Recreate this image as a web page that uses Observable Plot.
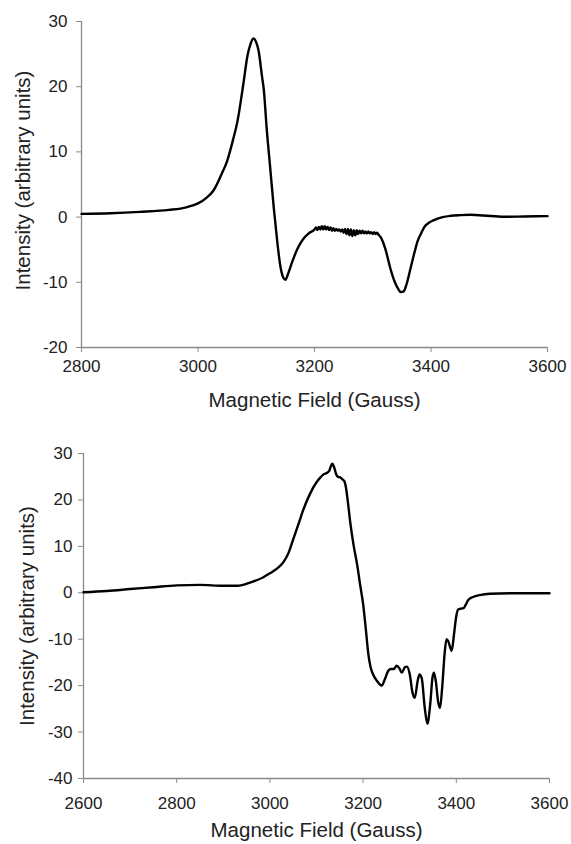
<!DOCTYPE html>
<html><head><meta charset="utf-8">
<script src="https://cdn.jsdelivr.net/npm/d3@7"></script>
<script src="https://cdn.jsdelivr.net/npm/@observablehq/plot@0.6"></script>
<style>
body{margin:0;background:#fff;}
#chart svg{display:block;}
</style>
</head><body><div id="chart"></div>
<script>
const xLabel = "Magnetic Field (Gauss)";
const yLabel = "Intensity (arbitrary units)";

// Top spectrum
const topField = [2800,2850,2900,2950,2980,3000,3015,3026,3040,3050,3060,3068,3078,3085,3090,3095,3100,3104,3110,3113,3118,3124,3130,3136,3141,3146,3150,3155,3162,3170,3176,3182,3190,
  3200,3202.5,3205,3207.5,3210,3212.5,3215,3217.5,3220,3222.5,3225,3227.5,3230,3232.5,3235,3237.5,3240,3242.5,3245,3247.5,3250,3252.5,3255,3257.5,3260,3262.5,3265,3267.5,3270,3272.5,3275,3277.5,3280,3282.5,3285,3287.5,3290,3292.5,3295,3297.5,3300,3302.5,3305,3307.5,3310,
  3313,3317,3322,3330,3338,3345,3348,3353,3358,3365,3372,3377,3383,3388,3396,3404,3420,3434,3450,3468,3490,3525,3560,3600];
const topIntensity = [0.5,0.6,0.8,1.1,1.5,2.1,3.0,4.0,6.5,8.6,11.8,14.8,20.5,24.8,26.5,27.4,26.8,25.5,21.5,19.5,13.5,7.5,1.5,-3.7,-7.3,-9.2,-9.6,-8.6,-6.8,-5.0,-4.0,-3.2,-2.5,
  -1.9,-1.6,-2.0,-1.5,-1.9,-1.4,-1.9,-1.4,-1.9,-1.5,-2.0,-1.6,-2.1,-1.7,-2.1,-1.8,-2.1,-1.9,-2.2,-1.9,-2.4,-1.8,-2.6,-1.8,-2.8,-1.9,-2.9,-2.0,-2.8,-2.0,-2.6,-2.1,-2.5,-2.1,-2.5,-2.2,-2.5,-2.2,-2.5,-2.3,-2.6,-2.3,-2.6,-2.4,-2.7,
  -3.0,-3.7,-5.0,-7.8,-10.0,-11.2,-11.5,-11.4,-10.3,-7.8,-5.3,-3.7,-2.5,-1.6,-0.9,-0.5,0.0,0.2,0.3,0.35,0.25,0.05,0.1,0.15];
const topXTicks = [2800,3000,3200,3400,3600];
const topYTicks = [-20,-10,0,10,20,30];

// Bottom spectrum
const bottomField = [2600,2650,2700,2750,2800,2850,2900,2930,2960,2985,3000,3015,3029,3040,3051,3062,3071,3086,3100,3108,3115,3122,3127,3131,3134,3138,3142,3146,3152,3155,3160,3163,3168,3172,3180,3187,3194,3200,3206,3211,3216,3221,3230,3240,3246,3254,3260,3266,3272,3278,3283,3290,3294,3300,3306,3311,3317,3321,3326,3332,3338,3344,3349,3352,3356,3361,3365,3370,3375,3379,3383,3390,3395,3400,3404,3410,3416,3420,3426,3436,3450,3472,3520,3600];
const bottomIntensity = [0.1,0.4,0.8,1.2,1.6,1.7,1.5,1.5,2.3,3.3,4.2,5.2,6.6,8.6,11.8,15.0,17.7,21.3,23.8,24.8,25.5,25.8,26.2,27.3,27.8,27.0,25.6,25.0,24.8,24.5,24.0,22.8,19.0,15.5,10.0,6.2,1.5,-2.4,-8.0,-13.0,-16.0,-17.5,-19.0,-20.0,-18.8,-16.8,-16.4,-16.4,-15.7,-16.3,-17.2,-16.0,-15.9,-17.5,-21.5,-22.6,-19.0,-17.6,-18.5,-24.5,-28.2,-24.0,-18.2,-17.2,-19.0,-23.5,-24.8,-20.0,-13.0,-10.0,-10.5,-12.5,-9.0,-5.0,-3.6,-3.4,-3.3,-2.6,-1.5,-0.9,-0.5,-0.2,-0.1,-0.1];
const bottomXTicks = [2600,2800,3000,3200,3400,3600];
const bottomYTicks = [-40,-30,-20,-10,0,10,20,30];

const FONT = "'Liberation Sans', Arial, sans-serif";
const AXIS_GRAY = "#8a8a8a";
const TEXT_COLOR = "#222";

function panel(field, intensity, xTicks, yTicks, o) {
  const data = field.map((f, i) => ({field: f, intensity: intensity[i]}));
  const xDom = [d3.min(xTicks), d3.max(xTicks)];
  const yDom = [d3.min(yTicks), d3.max(yTicks)];
  return Plot.plot({
    width: 571,
    height: o.height,
    marginLeft: o.ml, marginRight: o.mr, marginTop: o.mt, marginBottom: o.mb,
    style: {fontFamily: FONT, background: "#fff", overflow: "visible"},
    x: {domain: xDom},
    y: {domain: yDom},
    marks: [
      Plot.ruleX([xDom[0]], {stroke: AXIS_GRAY, strokeWidth: 1.3}),
      Plot.ruleY([yDom[0]], {stroke: AXIS_GRAY, strokeWidth: 1.3}),
      Plot.axisX({ticks: xTicks, tickSize: 5, tickPadding: o.xpad, fontSize: 17, stroke: AXIS_GRAY, fill: TEXT_COLOR, label: null, tickFormat: d => String(d)}),
      Plot.axisY({ticks: yTicks, tickSize: 5, tickPadding: o.ypad, fontSize: 17, stroke: AXIS_GRAY, fill: TEXT_COLOR, label: null, tickFormat: d => String(d)}),
      Plot.line(data, {x: "field", y: "intensity", stroke: "#000", strokeWidth: 2.4, curve: "monotone-x"}),
      Plot.text([xLabel], {frameAnchor: "bottom", dy: o.xtitle, fontSize: 20.5, fill: TEXT_COLOR, textAnchor: "middle", lineAnchor: "middle"}),
      Plot.text([yLabel], {frameAnchor: "left", rotate: -90, dx: o.ytitleX, dy: o.ytitleY, fontSize: 20.5, fill: TEXT_COLOR, textAnchor: "middle", lineAnchor: "middle"})
    ]
  });
}

const root = document.getElementById("chart");
root.append(panel(topField, topIntensity, topXTicks, topYTicks,
  {height: 420, ml: 81, mr: 24, mt: 21, mb: 73, xpad: 7, ypad: 9, xtitle: 53, ytitleX: -58.5, ytitleY: -4}));
root.append(panel(bottomField, bottomIntensity, bottomXTicks, bottomYTicks,
  {height: 424, ml: 83, mr: 22, mt: 33, mb: 66, xpad: 13, ypad: 6, xtitle: 52, ytitleX: -56, ytitleY: 0}));
</script>
</body></html>
